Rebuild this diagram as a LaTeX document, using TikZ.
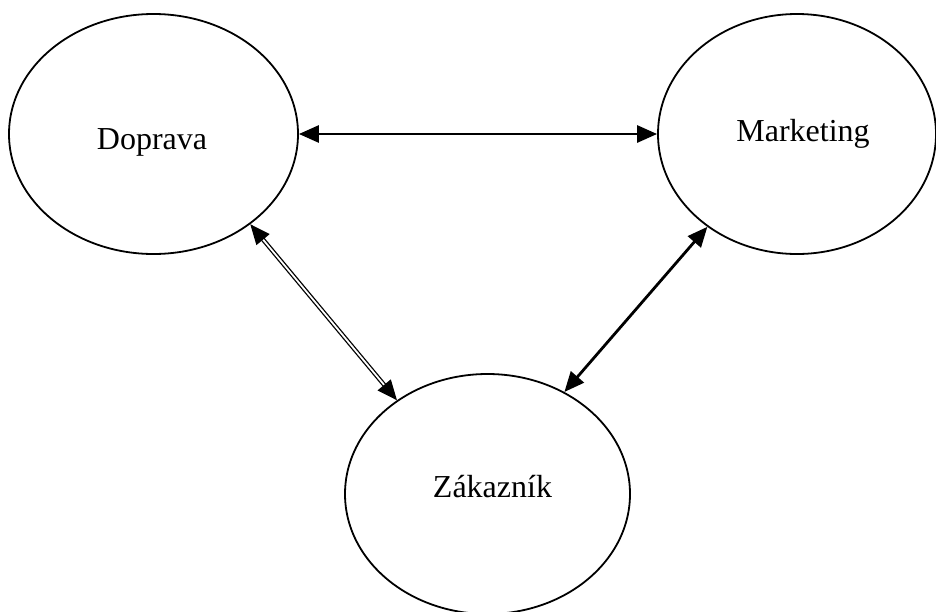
\documentclass[tikz,border=0pt]{standalone}
\usepackage{fontspec}
\setmainfont{Liberation Serif}
\usetikzlibrary{shapes.geometric,arrows.meta}
\begin{document}
\begin{tikzpicture}[x=1pt,y=-1pt,
  bubble/.style={draw, ellipse, line width=1.8pt, inner sep=0pt},
  lbl/.style={font=\fontsize{32}{38}\selectfont, inner sep=0pt, anchor=base},
  tip/.tip={Triangle[length=20pt,width=17pt]},
  link/.style={tip-tip, line width=2.8pt},
  dlink/.style={tip-tip, double, line width=1.3pt, double distance=1.8pt}
]
\useasboundingbox (0,0) rectangle (936,611);

% the three actors
\node[bubble, minimum width=289pt, minimum height=240pt] (dop) at (153.5,134) {};
\node[bubble, minimum width=278pt, minimum height=240pt] (mkt) at (797,134) {};
\node[bubble, minimum width=285pt, minimum height=240pt] (zak) at (487.5,494) {};

\node[lbl] (tdop) at (152,149) {Doprava};
\node[lbl] (tmkt) at (803,141) {Marketing};
\node[lbl] (tzak) at (492.5,497) {Zákazník};

% two-way relations
\draw[link] (dop.0) -- (mkt.180);
\draw[dlink] (dop.-43.3) -- (zak.134.3);
\draw[link] (mkt.226.2) -- (zak.53);
\end{tikzpicture}
\end{document}
